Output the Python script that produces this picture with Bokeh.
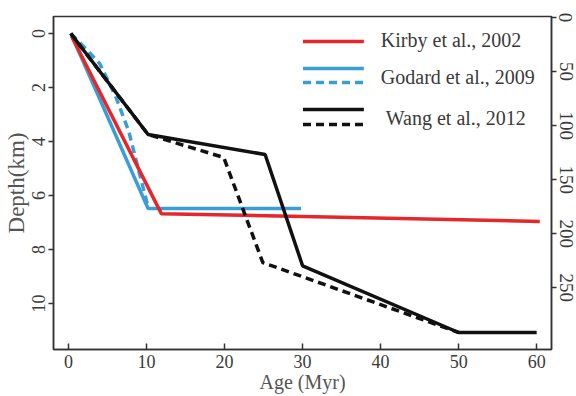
from bokeh.plotting import figure
from bokeh.models import Range1d, LinearAxis, FixedTicker, Label
from bokeh.embed import file_html
from bokeh.resources import INLINE

# ---- data (Age in Myr, Depth in km) ----
kirby_age = [0.4, 11.9, 60.4]
kirby_depth = [0.1, 6.67, 6.96]

godard_age = [0.3, 10.2, 29.8]
godard_depth = [0.0, 6.48, 6.48]

godard2_age = [0.3, 2.0, 4.0, 6.1, 7.7, 9.0, 10.0, 10.2]
godard2_depth = [0.0, 0.5, 1.11, 2.37, 3.6, 5.07, 6.2, 6.48]

wang_age = [0.3, 10.2, 25.2, 30.0, 50.0, 60.0]
wang_depth = [0.0, 3.74, 4.48, 8.6, 11.07, 11.07]

wang2_age = [0.3, 10.2, 19.9, 24.9, 50.0]
wang2_depth = [0.0, 3.74, 4.59, 8.48, 11.07]

x_ticks = [0, 10, 20, 30, 40, 50, 60]
left_ticks = [0, 2, 4, 6, 8, 10]
right_ticks = [0, 50, 100, 150, 200, 250]

legend_labels = ["Kirby et al., 2002", "Godard et al., 2009", "Wang et al., 2012"]

RED = "#e5262b"
BLUE = "#3a9ed6"
BLACK = "#111111"
FONT = "Liberation Serif"
TXT = "#3a3a3a"

# ---- layout ----
W, H = 576, 396
FL, FR, FT, FB = 52, 551, 16, 349
X0, X1 = -1.92, 61.9
Y0, Y1 = -0.63, 11.70   # top, bottom (km)
R0, R1 = -0.9, 307.0    # top, bottom (right axis)

p = figure(width=W, height=H, output_backend="svg", toolbar_location=None,
           x_range=Range1d(X0, X1), y_range=Range1d(Y1, Y0),
           min_border_left=FL, min_border_right=W - FR,
           min_border_top=FT, min_border_bottom=H - FB)
p.xgrid.visible = False
p.ygrid.visible = False
p.outline_line_color = "#333333"
p.outline_line_width = 1.5
p.background_fill_color = "white"
p.border_fill_color = "white"

def style_axis(ax, size):
    ax.axis_line_color = "#333333"
    ax.axis_line_width = 1.5
    ax.major_tick_line_color = "#333333"
    ax.major_tick_line_width = 1.5
    ax.minor_tick_line_color = None
    ax.major_label_text_font = FONT
    ax.major_label_text_font_size = size
    ax.major_label_text_color = TXT
    ax.axis_label_text_font = FONT
    ax.axis_label_text_font_size = "20px"
    ax.axis_label_text_font_style = "normal"
    ax.axis_label_text_color = "#555555"

xa = p.xaxis[0]
style_axis(xa, "18px")
xa.ticker = FixedTicker(ticks=x_ticks)
xa.major_tick_in = 6
xa.major_tick_out = 0
xa.major_label_standoff = 5
xa.axis_label = "Age (Myr)"
xa.axis_label_standoff = 0

ya = p.yaxis[0]
style_axis(ya, "18px")
ya.ticker = FixedTicker(ticks=left_ticks)
ya.major_tick_in = 0
ya.major_tick_out = 5
ya.major_label_orientation = "vertical"
ya.major_label_standoff = 3
ya.axis_label = "Depth(km)"
ya.axis_label_text_font_size = "23px"
ya.axis_label_standoff = 1

p.extra_y_ranges = {"right": Range1d(R1, R0)}
ra = LinearAxis(y_range_name="right")
style_axis(ra, "19px")
ra.ticker = FixedTicker(ticks=right_ticks)
ra.major_tick_in = 0
ra.major_tick_out = 5
ra.major_label_orientation = "vertical"
ra.major_label_standoff = 3
p.add_layout(ra, "right")

LW = 3.5
p.line(godard_age, godard_depth, line_color=BLUE, line_width=LW)
p.line(godard2_age, godard2_depth, line_color=BLUE, line_width=LW, line_dash="8 5")
p.line(kirby_age, kirby_depth, line_color=RED, line_width=LW)
p.line(wang2_age, wang2_depth, line_color=BLACK, line_width=LW, line_dash="8 5")
p.line(wang_age, wang_depth, line_color=BLACK, line_width=LW)

# ---- legend (drawn manually, positioned in pixels of the frame) ----
def dx(px):
    return X0 + (px - FL) / (FR - FL) * (X1 - X0)

def dy(py):
    return Y0 + (py - FT) / (FB - FT) * (Y1 - Y0)

swatches = [(41, RED, "solid"), (68, BLUE, "solid"), (82, BLUE, "8 5"),
            (109, BLACK, "solid"), (124, BLACK, "8 5")]
for py, col, dash in swatches:
    p.line([dx(302), dx(363)], [dy(py), dy(py)], line_color=col, line_width=LW,
           line_dash=dash)

text_pos = [(380, 39), (380, 76), (385, 117)]
for (tx, ty), lab in zip(text_pos, legend_labels):
    p.add_layout(Label(x=dx(tx), y=dy(ty), text=lab, text_font=FONT,
                       text_font_size="20px", text_color=TXT,
                       text_baseline="middle"))

open("out.html", "w").write(file_html(p, INLINE))
